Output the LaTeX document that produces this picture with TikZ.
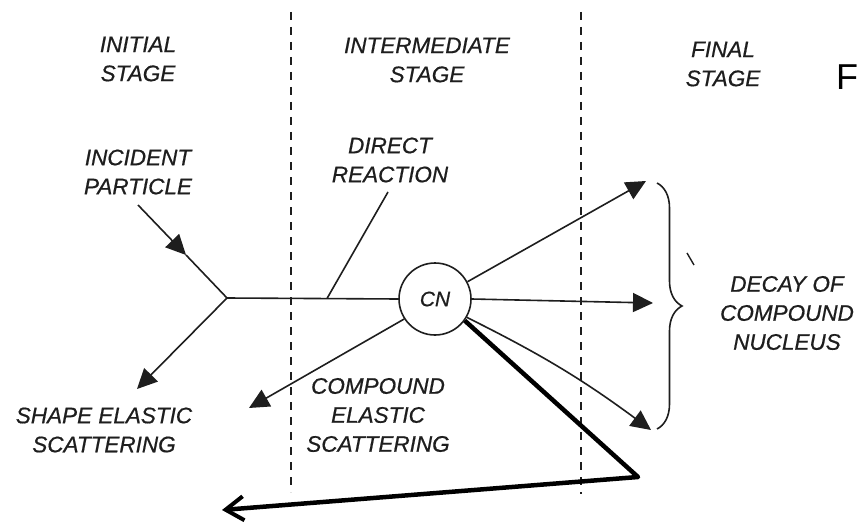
\documentclass[tikz,border=0pt]{standalone}
\usepackage{fontspec}
\setmainfont{Liberation Sans}
\newfontface\lblface{Liberation Sans Italic}[FakeBold=0.6]
\usetikzlibrary{arrows.meta,decorations.pathreplacing}
\definecolor{ink}{HTML}{1E1E1E}
\begin{document}
\begin{tikzpicture}[x=1pt,y=-1pt,
  lbl/.style={font=\fontsize{22.5}{29}\lblface, text=ink, align=center, inner sep=0pt},
  thinline/.style={draw=ink, line width=1.6pt},
  tri/.style={-{Triangle[length=20pt,width=19pt]}},
  divider/.style={draw=ink, line width=2.4pt, dash pattern=on 8pt off 7pt},
  boldline/.style={draw=black, line width=4.5pt, line join=round}]
\useasboundingbox (0,0) rectangle (859,524);
\fill[white] (0,0) rectangle (859,524);

% stage dividers
\coordinate (d1t) at (291,12); \coordinate (d1b) at (291,492);
\coordinate (d2t) at (581,12); \coordinate (d2b) at (581,494);
\draw[divider] (d1t) -- (d1b);
\draw[divider] (d2t) -- (d2b);

% headings
\node[lbl] (initial) at (138,59) {INITIAL\\STAGE};
\node[lbl] (inter) at (427,60) {INTERMEDIATE\\STAGE};
\node[lbl] (final) at (723,64) {FINAL\\STAGE};
\node[font=\fontsize{36}{40}\selectfont, text=black, anchor=base, inner sep=0pt] (F) at (847,90) {F};

% labels
\node[lbl] (incident) at (138,172) {INCIDENT\\PARTICLE};
\node[lbl] (direct) at (390,160) {DIRECT\\REACTION};
\node[lbl] (shape) at (104,430) {SHAPE ELASTIC\\SCATTERING};
\node[lbl] (celastic) at (378,415) {COMPOUND\\ELASTIC\\SCATTERING};
\node[lbl] (decay) at (787,313) {DECAY OF\\COMPOUND\\NUCLEUS};

% compound nucleus
\node[circle, draw=ink, line width=1.6pt, minimum size=72pt, inner sep=0pt,
      font=\fontsize{21}{24}\lblface, text=ink] (CN) at (435,299) {CN};

% coordinates
\coordinate (inc) at (138,205);
\coordinate (ia) at (186,255);
\coordinate (J) at (227,298);
\coordinate (se) at (137,389);
\coordinate (dr0) at (327,298.5);
\coordinate (dr1) at (388,192);
\coordinate (ce) at (249,408);
\coordinate (up) at (646,181);
\coordinate (mid) at (653,303);
\coordinate (low) at (651,430);
\coordinate (bt) at (657,183);
\coordinate (bb) at (657,429);
\coordinate (tk1) at (687,253);
\coordinate (tk2) at (694,265);
\coordinate (bend) at (638,477);
\coordinate (tail) at (222,510);

% incident particle
\draw[thinline, tri] (inc) -- (ia);
\draw[thinline] (ia) -- (J);
% beam to CN
\draw[thinline] (J) -- (CN.west);
% shape elastic scattering
\draw[thinline, tri] (J) -- (se);
% direct reaction
\draw[thinline] (dr0) -- (dr1);
% compound elastic
\draw[thinline, tri] (CN.213) -- (ce);
% decay channels
\draw[thinline, tri] (CN.28) -- (up);
\draw[thinline, tri] (CN.0) -- (mid);
\draw[thinline, tri] (CN.-30) to[bend left=5] (low);

% brace
\draw[thinline, decorate, decoration={brace, amplitude=25pt, aspect=0.5}] (bt) -- (bb);
\draw[ink, line width=1.4pt] (tk1) -- (tk2);

% bold pointer
\draw[boldline, -{Straight Barb[length=18pt,width=24pt,line width=4pt]}] (CN.-36) -- (bend) -- (tail);
\end{tikzpicture}
\end{document}
